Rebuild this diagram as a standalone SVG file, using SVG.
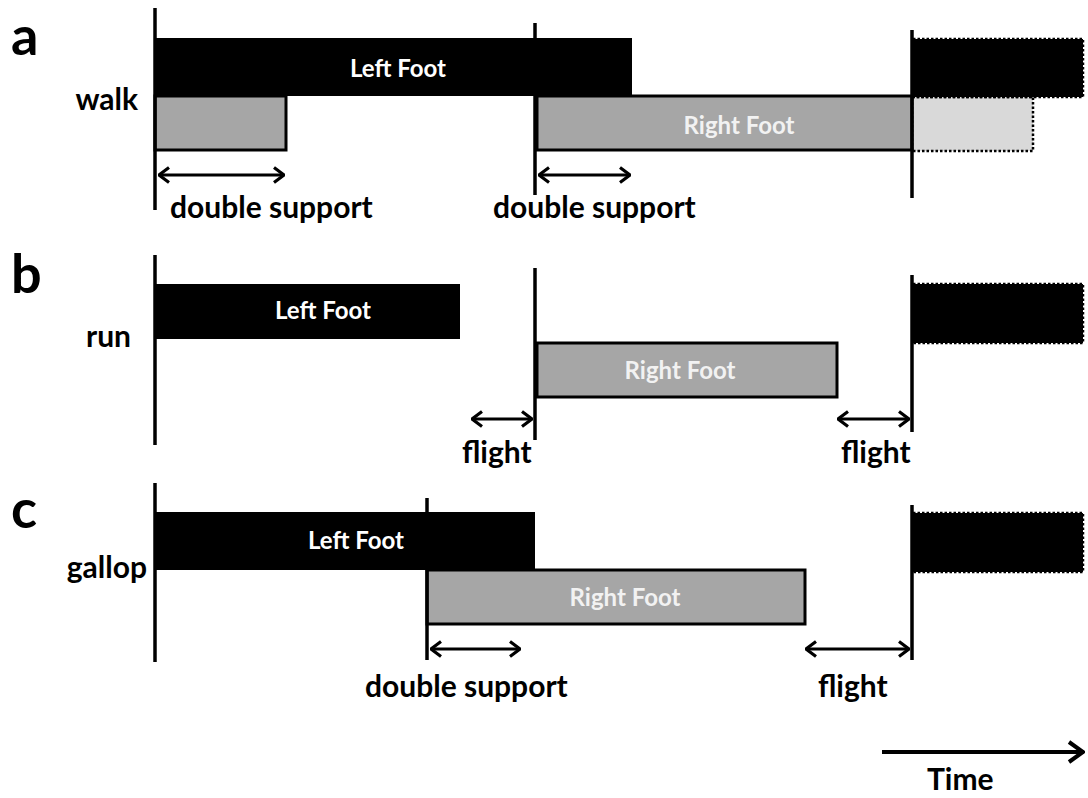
<svg xmlns="http://www.w3.org/2000/svg" width="1088" height="798" viewBox="0 0 1088 798">
<defs>
<style>
.bg{fill:#fff}
.lbl{font-family:Lato,"Liberation Sans",sans-serif;font-weight:bold;fill:#000;font-size:30px}
.big{font-family:Lato,"Liberation Sans",sans-serif;font-weight:bold;fill:#000;font-size:54px}
.ft{font-family:Lato,"Liberation Sans",sans-serif;font-weight:bold;font-size:24px;text-anchor:middle}
.lf{fill:#000}
.lft{fill:#fff}
.rf{fill:#a6a6a6;stroke:#000;stroke-width:3}
.rft{fill:#f2f2f2}
.dash{stroke:#000;stroke-width:2.5;stroke-dasharray:2.5 2}
.vl{stroke:#000;stroke-width:3.5;fill:none}
.arr{stroke:#000;stroke-width:3;fill:none;marker-start:url(#chev);marker-end:url(#chev)}
</style>
<marker id="chev" viewBox="0 0 12 18" refX="11" refY="9" markerWidth="12" markerHeight="18" markerUnits="userSpaceOnUse" orient="auto-start-reverse">
<path d="M1,1.5 L11,9 L1,16.5" fill="none" stroke="#000" stroke-width="3.2"/>
</marker>
<marker id="chevT" viewBox="0 0 18 24" refX="17" refY="12" markerWidth="18" markerHeight="24" markerUnits="userSpaceOnUse" orient="auto">
<path d="M2,2 L16,12 L2,22" fill="none" stroke="#000" stroke-width="4"/>
</marker>
</defs>
<rect class="bg" x="0" y="0" width="1088" height="798"/>

<!-- Panel a -->
<g id="panel-a-label"><text class="big" x="11" y="55">a</text><text class="lbl" x="138" y="110" text-anchor="end">walk</text></g>
<g id="a-prev-right"><rect x="155" y="96" width="131" height="54" class="rf"/></g>
<g id="a-next-right"><rect x="912" y="97" width="121" height="54" fill="#d9d9d9" class="dash"/></g>
<g id="a-right-foot"><rect x="537" y="96" width="375" height="54" class="rf"/><text class="ft rft" x="739" y="134">Right Foot</text></g>
<g id="a-left-foot"><rect x="155" y="38" width="477" height="58" class="lf"/><text class="ft lft" x="398" y="77">Left Foot</text></g>
<g id="a-next-left"><rect x="913" y="39" width="170" height="58" fill="#000" class="dash"/></g>
<text class="lbl" x="170" y="218">double support</text>
<text class="lbl" x="493" y="218">double support</text>

<!-- Panel b -->
<g id="panel-b-label"><text class="big" x="11" y="293">b</text><text class="lbl" x="131" y="347" text-anchor="end">run</text></g>
<g id="b-left-foot"><rect x="155" y="284" width="305" height="55" class="lf"/><text class="ft lft" x="323" y="319">Left Foot</text></g>
<g id="b-right-foot"><rect x="537" y="343" width="300" height="54" class="rf"/><text class="ft rft" x="680" y="379">Right Foot</text></g>
<g id="b-next-left"><rect x="913" y="284" width="170" height="59" fill="#000" class="dash"/></g>
<text class="lbl" x="462" y="463">flight</text>
<text class="lbl" x="841" y="463">flight</text>

<!-- Panel c -->
<g id="panel-c-label"><text class="big" x="11" y="528">c</text><text class="lbl" x="147" y="578" text-anchor="end">gallop</text></g>
<g id="c-right-foot"><rect x="427" y="570" width="378" height="54" class="rf"/><text class="ft rft" x="625" y="606">Right Foot</text></g>
<g id="c-left-foot"><rect x="155" y="512" width="380" height="58" class="lf"/><text class="ft lft" x="356" y="549">Left Foot</text></g>
<g id="c-next-left"><rect x="913" y="513" width="170" height="59" fill="#000" class="dash"/></g>
<text class="lbl" x="365" y="697">double support</text>
<text class="lbl" x="818" y="697">flight</text>

<text class="lbl" x="927" y="790">Time</text>

<g id="connectors">
<line class="vl" x1="155" y1="8" x2="155" y2="210"/>
<line class="vl" x1="535" y1="23" x2="535" y2="195"/>
<line class="vl" x1="912" y1="30" x2="912" y2="198"/>
<line class="vl" x1="155" y1="255" x2="155" y2="445"/>
<line class="vl" x1="535" y1="268" x2="535" y2="440"/>
<line class="vl" x1="912" y1="275" x2="912" y2="432"/>
<line class="vl" x1="155" y1="483" x2="155" y2="662"/>
<line class="vl" x1="427" y1="498" x2="427" y2="660"/>
<line class="vl" x1="912" y1="505" x2="912" y2="660"/>
<line class="arr" x1="159" y1="175" x2="284" y2="175"/>
<line class="arr" x1="539" y1="175" x2="630" y2="175"/>
<line class="arr" x1="472" y1="419" x2="532" y2="419"/>
<line class="arr" x1="838" y1="419" x2="909" y2="419"/>
<line class="arr" x1="431" y1="649" x2="520" y2="649"/>
<line class="arr" x1="806" y1="649" x2="909" y2="649"/>
<line x1="882" y1="752" x2="1084" y2="752" stroke="#000" stroke-width="4" marker-end="url(#chevT)"/>
</g>
</svg>
